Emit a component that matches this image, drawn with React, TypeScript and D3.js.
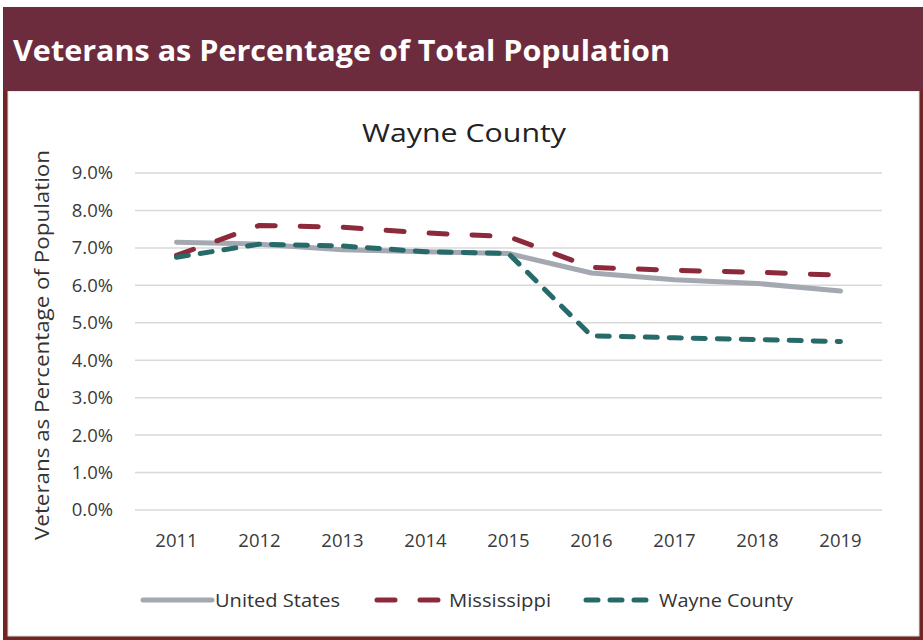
import React from 'react';
import * as d3 from 'd3';

const years = ['2011', '2012', '2013', '2014', '2015', '2016', '2017', '2018', '2019'];
const unitedStates = [7.15, 7.1, 6.95, 6.9, 6.85, 6.33, 6.15, 6.05, 5.85];
const mississippi = [6.8, 7.6, 7.55, 7.4, 7.3, 6.48, 6.4, 6.35, 6.27];
const wayneCounty = [6.75, 7.1, 7.05, 6.9, 6.85, 4.65, 4.6, 4.55, 4.5];
const yTicks = [0, 1, 2, 3, 4, 5, 6, 7, 8, 9];

const series = [
  { name: 'United States', values: unitedStates, color: '#a4a8b1', dash: 'none' },
  { name: 'Mississippi', values: mississippi, color: '#8c2a3b', dash: '18 25' },
  { name: 'Wayne County', values: wayneCounty, color: '#266a6a', dash: '12 12' },
];

const legendItems = [
  { x1: 143, x2: 212, textX: 215, textW: 125 },
  { x1: 377, x2: 446, textX: 449, textW: 102 },
  { x1: 586, x2: 652, textX: 659, textW: 134 },
];

const FONT = "'Open Sans', 'Noto Sans', sans-serif";

const App: React.FC = () => {
  const width = 923;
  const height = 640;
  const plot = { left: 135, right: 882, top: 173, bottom: 510 };

  const x = d3.scalePoint<string>()
    .domain(years)
    .range([plot.left, plot.right])
    .padding(0.5);

  const y = d3.scaleLinear()
    .domain([0, 9])
    .range([plot.bottom, plot.top]);

  const line = d3.line<number>()
    .x((_, i) => x(years[i]) as number)
    .y(d => y(d));

  return (
    <svg width={width} height={height} style={{ position: 'absolute', left: 0, top: 0, background: '#fff' }}>
      {/* panel frame */}
      <rect x={3} y={7} width={920} height={633} fill="#6f2624" />
      <rect x={8} y={91} width={911} height={545} fill="#ffffff" stroke="#dcdcdc" strokeWidth={1} />
      {/* header band */}
      <rect x={4} y={7} width={919} height={84} fill="#6d2b3e" />
      <text x={13} y={61} fill="#ffffff" fontFamily={FONT} fontWeight={700} fontSize={29}
        textLength={657} lengthAdjust="spacingAndGlyphs">
        Veterans as Percentage of Total Population
      </text>

      {/* chart title */}
      <text x={464} y={142} textAnchor="middle" fill="#222" fontFamily={FONT} fontSize={25}
        textLength={204} lengthAdjust="spacingAndGlyphs">
        Wayne County
      </text>

      {/* gridlines + y ticks */}
      {yTicks.map(t => (
        <g key={t}>
          <line x1={plot.left} x2={plot.right} y1={y(t)} y2={y(t)} stroke="#d9d9d9" strokeWidth={1.5} />
          <text x={113} y={y(t)} dy="0.35em" textAnchor="end" fill="#3a3a3a" fontFamily={FONT} fontSize={18.5}>
            {t.toFixed(1)}%
          </text>
        </g>
      ))}

      {/* x labels */}
      {years.map(yr => (
        <text key={yr} x={x(yr)} y={547} textAnchor="middle" fill="#3a3a3a" fontFamily={FONT} fontSize={18.5}>
          {yr}
        </text>
      ))}

      {/* y axis title */}
      <text transform="translate(49,345) rotate(-90)" textAnchor="middle" fill="#333" fontFamily={FONT}
        fontSize={20} textLength={390} lengthAdjust="spacingAndGlyphs">
        Veterans as Percentage of Population
      </text>

      {/* series */}
      {series.map(s => (
        <path key={s.name} d={line(s.values) || ''} fill="none" stroke={s.color} strokeWidth={5}
          strokeDasharray={s.dash} strokeLinecap="round" strokeLinejoin="round" />
      ))}

      {/* legend */}
      {series.map((s, i) => {
        const it = legendItems[i];
        return (
          <g key={s.name}>
            <line x1={it.x1} x2={it.x2} y1={600} y2={600} stroke={s.color} strokeWidth={5}
              strokeDasharray={s.dash} strokeLinecap="round" />
            <text x={it.textX} y={607} fill="#333" fontFamily={FONT} fontSize={19}
              textLength={it.textW} lengthAdjust="spacingAndGlyphs">
              {s.name}
            </text>
          </g>
        );
      })}
    </svg>
  );
};

export default App;
